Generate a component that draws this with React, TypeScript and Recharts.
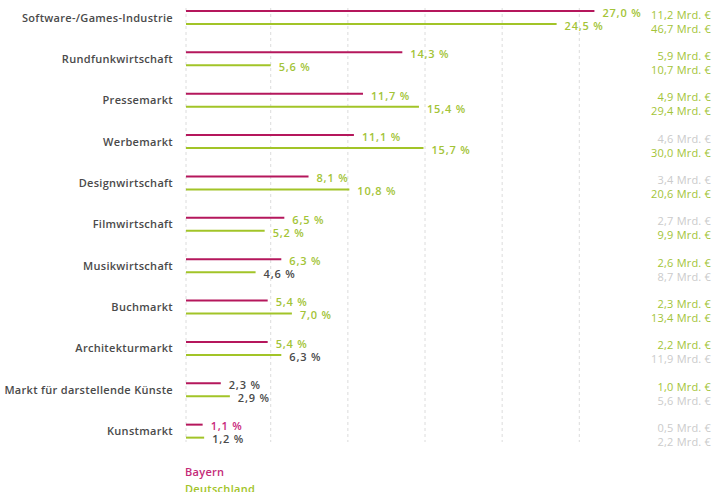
import { BarChart, Bar, XAxis, YAxis, CartesianGrid, LabelList, Legend } from 'recharts'

const categories = [
  'Software-/Games-Industrie',
  'Rundfunkwirtschaft',
  'Pressemarkt',
  'Werbemarkt',
  'Designwirtschaft',
  'Filmwirtschaft',
  'Musikwirtschaft',
  'Buchmarkt',
  'Architekturmarkt',
  'Markt für darstellende Künste',
  'Kunstmarkt',
]

// Anteil in %
const bayernShare = [27.0, 14.3, 11.7, 11.1, 8.1, 6.5, 6.3, 5.4, 5.4, 2.3, 1.1]
const deutschlandShare = [24.5, 5.6, 15.4, 15.7, 10.8, 5.2, 4.6, 7.0, 6.3, 2.9, 1.2]

// Umsatz in Mrd. €
const bayernMrd = [11.2, 5.9, 4.9, 4.6, 3.4, 2.7, 2.6, 2.3, 2.2, 1.0, 0.5]
const deutschlandMrd = [46.7, 10.7, 29.4, 30.0, 20.6, 9.9, 8.7, 13.4, 11.9, 5.6, 2.2]

// highlight state of each text (g = highlighted, d = dark, p = pink, m = muted)
const bayernShareTone = ['g', 'g', 'g', 'g', 'g', 'g', 'g', 'g', 'g', 'd', 'p']
const deutschlandShareTone = ['g', 'g', 'g', 'g', 'g', 'g', 'd', 'g', 'd', 'd', 'd']
const bayernMrdTone = ['g', 'g', 'g', 'm', 'm', 'm', 'g', 'g', 'g', 'g', 'm']
const deutschlandMrdTone = ['g', 'g', 'g', 'g', 'g', 'g', 'm', 'g', 'm', 'm', 'm']

// unlabeled guide lines
const X_MAX = 27.5
const gridTicks = [0, 5.6, 10.7, 15.8, 20.9, 26]

const FONT = '"Open Sans", sans-serif'
const BAYERN = '#b5175c'
const DEUTSCHLAND = '#a2c428'
const toneColor: Record<string, string> = {
  g: '#a3c437',
  d: '#4a4a4a',
  p: '#c8267a',
  m: '#cbcbcb',
}

const data = categories.map((name, i) => ({
  name,
  bayern: bayernShare[i],
  deutschland: deutschlandShare[i],
}))

const fmt = (v: number) => v.toFixed(1).replace('.', ',')

const shareLabel = (tones: string[]) => (props: any) => {
  const { x, y, width, height, value, index } = props
  return (
    <text
      x={Number(x) + Number(width) + 8}
      y={Number(y) + Number(height) / 2 + 2}
      dy="0.35em"
      fill={toneColor[tones[index]]}
      fontSize={11}
      fontWeight={600}
      fontFamily={FONT}
      letterSpacing={0.8}
    >
      {fmt(value)} %
    </text>
  )
}

const RIGHT_EDGE = 711

const CategoryTick = (props: any) => {
  const { x, y, payload } = props
  return (
    <text
      x={x}
      y={y}
      dy="0.35em"
      textAnchor="end"
      fill="#4a4a4a"
      fontSize={11}
      fontWeight={600}
      fontFamily={FONT}
      letterSpacing={0.3}
    >
      {payload.value}
    </text>
  )
}

const MrdTick = (props: any) => {
  const { y, payload } = props
  const i = payload.index
  return (
    <g fontFamily={FONT} fontSize={11} textAnchor="end" letterSpacing={0.2}>
      <text x={RIGHT_EDGE} y={y - 3} dy="0.35em" fill={toneColor[bayernMrdTone[i]]}>
        {fmt(bayernMrd[i])} Mrd. €
      </text>
      <text x={RIGHT_EDGE} y={y + 11} dy="0.35em" fill={toneColor[deutschlandMrdTone[i]]}>
        {fmt(deutschlandMrd[i])} Mrd. €
      </text>
    </g>
  )
}

const LegendBox = () => (
  <div
    style={{
      height: 40,
      paddingLeft: 185,
      paddingTop: 11,
      boxSizing: 'border-box',
      fontFamily: FONT,
      fontSize: 11,
      fontWeight: 600,
      lineHeight: '17px',
      letterSpacing: 0.3,
      overflow: 'visible',
    }}
  >
    <div style={{ color: '#c42a78' }}>Bayern</div>
    <div style={{ color: DEUTSCHLAND }}>Deutschland</div>
  </div>
)

const gridX = ({ xAxis, offset }: any) =>
  gridTicks.map(t =>
    xAxis && typeof xAxis.scale === 'function'
      ? xAxis.scale(t)
      : offset.left + (t / X_MAX) * offset.width,
  )

export default function App() {
  return (
    <div style={{ position: 'absolute', left: 0, top: -3, width: 726, height: 495, overflow: 'hidden' }}>
      <BarChart
        width={726}
        height={495}
        data={data}
        layout="vertical"
        margin={{ top: 0, right: 15, bottom: 0, left: 0 }}
        barSize={2}
        barGap={11}
      >
        <CartesianGrid
          horizontal={false}
          stroke="#dcdcdc"
          strokeDasharray="3 3"
          y={11}
          height={434}
          verticalCoordinatesGenerator={gridX}
        />
        <XAxis type="number" domain={[0, X_MAX]} ticks={gridTicks} hide />
        <YAxis
          yAxisId="left"
          type="category"
          dataKey="name"
          width={186}
          axisLine={false}
          tickLine={false}
          tickMargin={7}
          interval={0}
          tick={CategoryTick}
        />
        <YAxis
          yAxisId="right"
          orientation="right"
          type="category"
          dataKey="name"
          width={109}
          axisLine={false}
          tickLine={false}
          interval={0}
          tick={MrdTick}
        />
        <Legend verticalAlign="bottom" align="left" content={LegendBox} />
        <Bar yAxisId="left" dataKey="bayern" fill={BAYERN} isAnimationActive={false}>
          <LabelList dataKey="bayern" content={shareLabel(bayernShareTone)} />
        </Bar>
        <Bar yAxisId="left" dataKey="deutschland" fill={DEUTSCHLAND} isAnimationActive={false}>
          <LabelList dataKey="deutschland" content={shareLabel(deutschlandShareTone)} />
        </Bar>
      </BarChart>
    </div>
  )
}
